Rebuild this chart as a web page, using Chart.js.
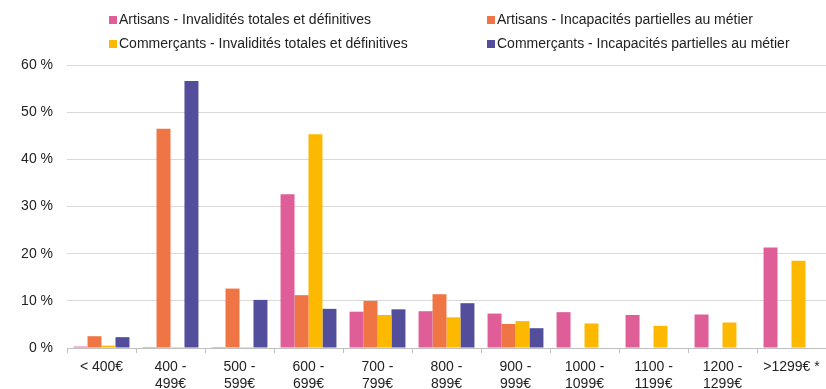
<!DOCTYPE html>
<html>
<head>
<meta charset="utf-8">
<script src="https://cdn.jsdelivr.net/npm/chart.js@4/dist/chart.umd.min.js"></script>
<style>
  body { margin: 0; background: #fff; }
  #wrap { position: relative; width: 826px; height: 389px; }
  .leg { position: absolute; font: 14px "Liberation Sans", Arial, sans-serif; color: #222; white-space: nowrap; line-height: 16px; }
  .leg span { display: inline-block; width: 8px; height: 8px; margin-right: 2px; vertical-align: 0px; }
</style>
</head>
<body>
<div id="wrap">
  <canvas id="chart" width="826" height="389"></canvas>
  <div id="legend"></div>
</div>
<script>
// tranches de montant
var categories = [
    '< 400€', ['400 -', '499€'], ['500 -', '599€'], ['600 -', '699€'], ['700 -', '799€'],
    ['800 -', '899€'], ['900 -', '999€'], ['1000 -', '1099€'], ['1100 -', '1199€'],
    ['1200 -', '1299€'], '>1299€ *'
];

var artisansITD    = [0.3, 0.2, 0.2, 32.6, 7.7, 7.8, 7.3, 7.6, 7.0, 7.1, 21.3];
var artisansIPM    = [2.5, 46.5, 12.6, 11.2, 10.0, 11.4, 5.1, null, null, null, null];
var commercantsITD = [0.5, 0.2, 0.2, 45.3, 7.0, 6.5, 5.7, 5.2, 4.7, 5.4, 18.5];
var commercantsIPM = [2.3, 56.6, 10.2, 8.3, 8.2, 9.5, 4.2, null, null, null, null];

var yTicks = [0, 10, 20, 30, 40, 50, 60];

var series = [
    { label: 'Artisans - Invalidités totales et définitives', data: artisansITD, color: '#df5e97', x: 109, y: 11 },
    { label: 'Artisans - Incapacités partielles au métier', data: artisansIPM, color: '#ef7545', x: 487, y: 11 },
    { label: 'Commerçants - Invalidités totales et définitives', data: commercantsITD, color: '#fcb900', x: 109, y: 35 },
    { label: 'Commerçants - Incapacités partielles au métier', data: commercantsIPM, color: '#524e9b', x: 487, y: 35 }
];

/** légende en HTML, deux colonnes */
var legendHtml = '';
for (i = 0; i < series.length; i++) {
    legendHtml += '<div class="leg" style="left:' + series[i].x + 'px;top:' + series[i].y + 'px">'
        + '<span style="background:' + series[i].color + '"></span>' + series[i].label + '</div>';
}
document.getElementById('legend').innerHTML = legendHtml;

var datasets = series.map(function (s) {
    return {
        label: s.label,
        data: s.data,
        backgroundColor: s.color,
        borderWidth: 0
    };
});

Chart.defaults.font.family = '"Liberation Sans", Arial, sans-serif';
Chart.defaults.font.size = 14;
Chart.defaults.color = '#222';

new Chart(document.getElementById('chart').getContext('2d'), {
    type: 'bar',
    data: { labels: categories, datasets: datasets },
    options: {
        responsive: false,
        animation: false,
        layout: { padding: { top: 65, right: 0, left: 0, bottom: 0 } },
        plugins: { legend: { display: false }, tooltip: { enabled: false } },
        datasets: { bar: { categoryPercentage: 0.81, barPercentage: 1 } },
        scales: {
            x: {
                grid: { display: true, drawOnChartArea: false, offset: true, tickLength: 5, color: '#bfbfbf' },
                border: { display: true, color: '#bfbfbf' },
                ticks: { maxRotation: 0, autoSkip: false, padding: 5, color: '#222', font: { size: 14, lineHeight: 1.25 } },
                afterFit: function (scale) { scale.height = 41; }
            },
            y: {
                min: 0,
                max: 60,
                afterBuildTicks: function (scale) {
                    scale.ticks = yTicks.map(function (v) { return { value: v }; });
                },
                grid: { color: '#d9d9d9', drawTicks: false },
                border: { display: false },
                ticks: {
                    padding: 14,
                    color: '#222',
                    callback: function (v) { return v + ' %'; }
                },
                afterFit: function (scale) { scale.width = 67; }
            }
        }
    }
});
</script>
</body>
</html>
